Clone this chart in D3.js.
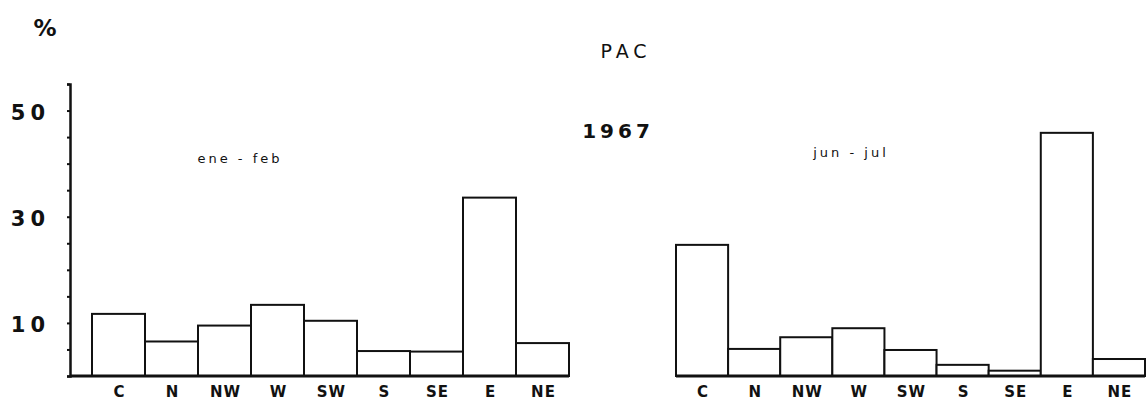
<!DOCTYPE html>
<html lang="en">
<head>
  <meta charset="UTF-8">
  <title>PAC 1967</title>
  <script src="https://d3js.org/d3.v7.min.js"></script>
  <style>
    body { margin: 0; background: #fff; }
    text { font-family: "DejaVu Sans", sans-serif; fill: #111; }
    .bar { fill: #fff; stroke: #111; stroke-width: 2; }
    .cat { font-size: 15px; font-weight: bold; letter-spacing: 1px; }
    .num { font-size: 21px; font-weight: bold; letter-spacing: 5px; }
  </style>
</head>
<body>
  <svg width="1148" height="403"></svg>

  <script>
    // wind directions and percentages per period
    const categories = ["C", "N", "NW", "W", "SW", "S", "SE", "E", "NE"];
    const eneFeb = [11.7, 6.5, 9.5, 13.4, 10.4, 4.7, 4.6, 33.6, 6.2];
    const junJul = [24.7, 5.1, 7.3, 9.0, 4.9, 2.1, 1.0, 45.8, 3.2];
    const yTicks = [0, 5, 10, 15, 20, 25, 30, 35, 40, 45, 50, 55];
    const yLabels = [10, 30, 50];

    const svg = d3.select("svg");
    const base = 376;

    const y = d3.scaleLinear().domain([0, 55]).range([base, 84]);

    // y axis
    const yAxis = d3.axisLeft(y)
      .tickValues(yTicks)
      .tickSize(3)
      .tickPadding(17)
      .tickFormat(d => yLabels.includes(d) ? d : "");
    const ag = svg.append("g")
      .attr("transform", "translate(70,0)")
      .call(yAxis);
    ag.select(".domain").attr("stroke", "#111").attr("stroke-width", 2.5);
    ag.selectAll(".tick line").attr("stroke", "#111").attr("stroke-width", 2);
    ag.selectAll(".tick text").attr("class", "num").attr("font-family", null).attr("font-size", null)
      .attr("dy", "0.42em");

    function panel(values, x0, x1, lineStart, label, lx, ly) {
      const x = d3.scaleBand().domain(categories).range([x0, x1]).padding(0);
      const data = categories.map((c, i) => ({ cat: c, v: values[i] }));

      svg.append("g").selectAll("rect")
        .data(data)
        .enter().append("rect")
        .attr("class", "bar")
        .attr("x", d => x(d.cat))
        .attr("y", d => y(d.v))
        .attr("width", x.bandwidth())
        .attr("height", d => base - y(d.v));

      svg.append("line")
        .attr("x1", lineStart).attr("x2", x1)
        .attr("y1", base).attr("y2", base)
        .attr("stroke", "#111").attr("stroke-width", 3);

      svg.append("g").selectAll("text")
        .data(categories)
        .enter().append("text")
        .attr("class", "cat")
        .attr("x", d => x(d) + x.bandwidth() / 2 + 1)
        .attr("y", 397)
        .attr("text-anchor", "middle")
        .text(d => d);

      svg.append("text")
        .attr("x", lx).attr("y", ly)
        .attr("text-anchor", "middle")
        .style("font-size", "13px")
        .style("letter-spacing", "3px")
        .text(label);
    }

    panel(eneFeb, 92, 569, 70, "ene - feb", 240, 163);
    panel(junJul, 676, 1145, 676, "jun - jul", 851, 157);

    svg.append("text")
      .attr("x", 45).attr("y", 36)
      .attr("text-anchor", "middle")
      .style("font-size", "23px").style("font-weight", "bold")
      .text("%");

    svg.append("text")
      .attr("x", 626).attr("y", 58)
      .attr("text-anchor", "middle")
      .style("font-size", "19px").style("letter-spacing", "5px")
      .text("PAC");

    svg.append("text")
      .attr("x", 618).attr("y", 138)
      .attr("text-anchor", "middle")
      .style("font-size", "20px").style("font-weight", "bold").style("letter-spacing", "4px")
      .text("1967");
  </script>
</body>
</html>
